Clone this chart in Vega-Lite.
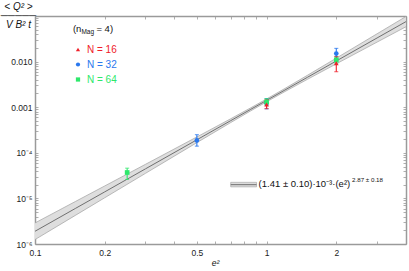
{
  "$schema": "https://vega.github.io/schema/vega-lite/v6.json",
  "autosize": {"type": "none"},
  "padding": {"left": 35, "top": 16, "right": 3, "bottom": 27},
  "width": 371,
  "height": 228,
  "background": "white",
  "config": {
    "font": "Liberation Sans",
    "view": {"stroke": null},
    "axis": {
      "grid": false,
      "domainColor": "#9a9a9a",
      "domainWidth": 1.5,
      "tickColor": "#9a9a9a",
      "tickSize": -3,
      "tickWidth": 0.8,
      "labelFontSize": 8.5,
      "labelColor": "#222",
      "labelFont": "Liberation Sans",
      "titleFont": "Liberation Sans",
      "titleFontWeight": "normal",
      "titleColor": "#111"
    },
    "legend": {
      "orient": "none", "legendX": 38, "legendY": 28.5, "title": null,
      "labelFontSize": 10, "symbolSize": 18, "symbolStrokeWidth": 0, "rowPadding": 5, "padding": 0, "labelOffset": 4
    }
  },
  "datasets": {
    "fit": [
      {"e2": 0.1, "lo": 1.249e-6, "mid": 1.902e-6, "hi": 2.895e-6},
      {"e2": 0.15, "lo": 4.296e-6, "mid": 6.088e-6, "hi": 8.633e-6},
      {"e2": 0.2, "lo": 1.032e-5, "mid": 1.390e-5, "hi": 1.874e-5},
      {"e2": 0.3, "lo": 3.543e-5, "mid": 4.450e-5, "hi": 5.590e-5},
      {"e2": 0.5, "lo": 1.671e-4, "mid": 1.928e-4, "hi": 2.226e-4},
      {"e2": 0.7, "lo": 4.603e-4, "mid": 5.066e-4, "hi": 5.574e-4},
      {"e2": 0.85, "lo": 8.190e-4, "mid": 8.842e-4, "hi": 9.548e-4},
      {"e2": 1, "lo": 1.313e-3, "mid": 1.41e-3, "hi": 1.514e-3},
      {"e2": 1.2, "lo": 2.200e-3, "mid": 2.378e-3, "hi": 2.573e-3},
      {"e2": 1.5, "lo": 4.077e-3, "mid": 4.515e-3, "hi": 4.998e-3},
      {"e2": 2, "lo": 8.931e-3, "mid": 1.031e-2, "hi": 1.190e-2},
      {"e2": 3, "lo": 2.675e-2, "mid": 3.300e-2, "hi": 4.072e-2},
      {"e2": 4, "lo": 5.813e-2, "mid": 7.535e-2, "hi": 9.768e-2}
    ],
    "pts": [
      {"e2": 0.25, "N": 64, "q": 3.7e-5, "lo": 2.6e-5, "hi": 4.6e-5},
      {"e2": 0.5, "N": 32, "q": 1.87e-4, "lo": 1.4e-4, "hi": 2.5e-4},
      {"e2": 1, "N": 32, "q": 1.22e-3, "lo": 0.92e-3, "hi": 1.55e-3},
      {"e2": 1, "N": 64, "q": 1.3e-3, "lo": 1.1e-3, "hi": 1.55e-3},
      {"e2": 1, "N": 16, "q": 1.15e-3, "lo": 0.93e-3, "hi": 1.45e-3},
      {"e2": 2, "N": 32, "q": 1.5e-2, "lo": 1.15e-2, "hi": 1.95e-2},
      {"e2": 2, "N": 64, "q": 1.09e-2, "lo": 0.93e-2, "hi": 1.27e-2},
      {"e2": 2, "N": 16, "q": 9.2e-3, "lo": 6.0e-3, "hi": 1.29e-2}
    ]
  },
  "resolve": {"axis": {"x": "independent", "y": "independent"}},
  "layer": [
    {
      "data": {"name": "fit"},
      "mark": {"type": "area", "color": "#dedede", "clip": true},
      "encoding": {
        "x": {
          "field": "e2", "type": "quantitative",
          "scale": {"type": "log", "domain": [0.1, 4], "nice": false},
          "axis": {
            "orient": "bottom",
            "values": [0.1, 0.2, 0.3, 0.4, 0.5, 0.6, 0.7, 0.8, 0.9, 1, 2, 3, 4],
            "labelExpr": "datum.value == 0.1 ? '0.1' : datum.value == 0.2 ? '0.2' : datum.value == 0.5 ? '0.5' : datum.value == 1 ? '1' : datum.value == 2 ? '2' : ''",
            "labelPadding": 7,
            "labelFlush": false,
            "labelOverlap": false,
            "title": "e²",
            "titleFontStyle": "italic",
            "titleFontSize": 8.5,
            "titleX": 180,
            "titleY": 14,
            "titleBaseline": "top"
          }
        },
        "y": {
          "field": "lo", "type": "quantitative",
          "scale": {"type": "log", "domain": [1e-6, 0.1], "nice": false},
          "axis": {
            "orient": "left",
            "values": [1e-6, 2e-6, 3e-6, 4e-6, 5e-6, 6e-6, 7e-6, 8e-6, 9e-6, 1e-5, 2e-5, 3e-5, 4e-5, 5e-5, 6e-5, 7e-5, 8e-5, 9e-5, 1e-4, 2e-4, 3e-4, 4e-4, 5e-4, 6e-4, 7e-4, 8e-4, 9e-4, 0.001, 0.002, 0.003, 0.004, 0.005, 0.006, 0.007, 0.008, 0.009, 0.01, 0.02, 0.03, 0.04, 0.05, 0.06, 0.07, 0.08, 0.09, 0.1],
            "labelExpr": "datum.value == 1e-6 ? '10⁻⁶' : datum.value == 1e-5 ? '10⁻⁵' : datum.value == 1e-4 ? '10⁻⁴' : datum.value == 0.001 ? '0.001' : datum.value == 0.01 ? '0.010' : ''",
            "labelPadding": 6,
            "labelFlush": false,
            "labelOverlap": false,
            "title": ["< Q² >", "─────", "V B² t"],
            "titleFontStyle": "italic",
            "titleFontSize": 10,
            "titleLineHeight": 9,
            "titleAngle": 0,
            "titleAlign": "center",
            "titleBaseline": "top",
            "titleX": -17,
            "titleY": -15
          }
        },
        "y2": {"field": "hi"}
      }
    },
    {
      "data": {"name": "fit"},
      "mark": {"type": "line", "color": "#a0a0a0", "strokeWidth": 0.7, "clip": true},
      "encoding": {
        "x": {"field": "e2", "type": "quantitative", "scale": {"type": "log", "domain": [0.1, 4], "nice": false}, "axis": null},
        "y": {"field": "lo", "type": "quantitative", "scale": {"type": "log", "domain": [1e-6, 0.1], "nice": false}, "axis": null}
      }
    },
    {
      "data": {"name": "fit"},
      "mark": {"type": "line", "color": "#a0a0a0", "strokeWidth": 0.7, "clip": true},
      "encoding": {
        "x": {"field": "e2", "type": "quantitative", "scale": {"type": "log", "domain": [0.1, 4], "nice": false}, "axis": null},
        "y": {"field": "hi", "type": "quantitative", "scale": {"type": "log", "domain": [1e-6, 0.1], "nice": false}, "axis": null}
      }
    },
    {
      "data": {"name": "fit"},
      "mark": {"type": "line", "color": "#707070", "strokeWidth": 1, "clip": true},
      "encoding": {
        "x": {
          "field": "e2", "type": "quantitative",
          "scale": {"type": "log", "domain": [0.1, 4], "nice": false},
          "axis": {
            "orient": "top",
            "values": [0.1, 0.2, 0.3, 0.4, 0.5, 0.6, 0.7, 0.8, 0.9, 1, 2, 3, 4],
            "labels": false,
            "title": null
          }
        },
        "y": {
          "field": "mid", "type": "quantitative",
          "scale": {"type": "log", "domain": [1e-6, 0.1], "nice": false},
          "axis": {
            "orient": "right",
            "values": [1e-6, 2e-6, 3e-6, 4e-6, 5e-6, 6e-6, 7e-6, 8e-6, 9e-6, 1e-5, 2e-5, 3e-5, 4e-5, 5e-5, 6e-5, 7e-5, 8e-5, 9e-5, 1e-4, 2e-4, 3e-4, 4e-4, 5e-4, 6e-4, 7e-4, 8e-4, 9e-4, 0.001, 0.002, 0.003, 0.004, 0.005, 0.006, 0.007, 0.008, 0.009, 0.01, 0.02, 0.03, 0.04, 0.05, 0.06, 0.07, 0.08, 0.09, 0.1],
            "labels": false,
            "title": null
          }
        }
      }
    },
    {
      "data": {"name": "pts"},
      "mark": {"type": "errorbar", "ticks": {"size": 4}, "thickness": 1.1},
      "encoding": {
        "x": {"field": "e2", "type": "quantitative", "scale": {"type": "log", "domain": [0.1, 4], "nice": false}, "axis": null},
        "y": {"field": "lo", "type": "quantitative", "scale": {"type": "log", "domain": [1e-6, 0.1], "nice": false}, "axis": null},
        "y2": {"field": "hi"},
        "color": {
          "field": "N", "type": "nominal",
          "scale": {"domain": [16, 32, 64], "range": ["#f0202a", "#2a78ee", "#2ee86b"]},
          "legend": {
            "labelExpr": "'N = ' + datum.label",
            "encode": {"labels": {"update": {"fill": {"scale": "color", "field": "value"}}}}
          }
        }
      }
    },
    {
      "data": {"name": "pts"},
      "mark": {"type": "point", "filled": true, "size": 22, "opacity": 1},
      "encoding": {
        "x": {"field": "e2", "type": "quantitative", "scale": {"type": "log", "domain": [0.1, 4], "nice": false}, "axis": null},
        "y": {"field": "q", "type": "quantitative", "scale": {"type": "log", "domain": [1e-6, 0.1], "nice": false}, "axis": null},
        "color": {
          "field": "N", "type": "nominal",
          "scale": {"domain": [16, 32, 64], "range": ["#f0202a", "#2a78ee", "#2ee86b"]},
          "legend": {
            "labelExpr": "'N = ' + datum.label",
            "encode": {"labels": {"update": {"fill": {"scale": "color", "field": "value"}}}}
          }
        },
        "shape": {
          "field": "N", "type": "nominal",
          "scale": {"domain": [16, 32, 64], "range": ["triangle-up", "circle", "square"]},
          "legend": {
            "labelExpr": "'N = ' + datum.label",
            "encode": {"labels": {"update": {"fill": {"scale": "color", "field": "value"}}}}
          }
        }
      }
    },
    {
      "data": {"values": [{}]},
      "mark": {"type": "text", "text": "(n", "fontSize": 9.5, "align": "left", "baseline": "alphabetic", "color": "#111"},
      "encoding": {
        "x": {"datum": 0.1458, "type": "quantitative", "scale": {"type": "log", "domain": [0.1, 4], "nice": false}, "axis": null},
        "y": {"datum": 0.0447, "type": "quantitative", "scale": {"type": "log", "domain": [1e-6, 0.1], "nice": false}, "axis": null}
      }
    },
    {
      "data": {"values": [{}]},
      "mark": {"type": "text", "text": "Mag", "fontSize": 6.5, "align": "left", "baseline": "alphabetic", "dx": 8.5, "dy": 2.5, "color": "#111"},
      "encoding": {
        "x": {"datum": 0.1458, "type": "quantitative", "scale": {"type": "log", "domain": [0.1, 4], "nice": false}, "axis": null},
        "y": {"datum": 0.0447, "type": "quantitative", "scale": {"type": "log", "domain": [1e-6, 0.1], "nice": false}, "axis": null}
      }
    },
    {
      "data": {"values": [{}]},
      "mark": {"type": "text", "text": "= 4)", "fontSize": 9.5, "align": "left", "baseline": "alphabetic", "dx": 23.5, "color": "#111"},
      "encoding": {
        "x": {"datum": 0.1458, "type": "quantitative", "scale": {"type": "log", "domain": [0.1, 4], "nice": false}, "axis": null},
        "y": {"datum": 0.0447, "type": "quantitative", "scale": {"type": "log", "domain": [1e-6, 0.1], "nice": false}, "axis": null}
      }
    },
    {
      "data": {"values": [{}]},
      "mark": {"type": "rect", "fill": "#dcdcdc", "stroke": "#a0a0a0", "strokeWidth": 0.6},
      "encoding": {
        "x": {"datum": 0.70, "type": "quantitative", "scale": {"type": "log", "domain": [0.1, 4], "nice": false}, "axis": null},
        "x2": {"datum": 0.905},
        "y": {"datum": 1.79e-5, "type": "quantitative", "scale": {"type": "log", "domain": [1e-6, 0.1], "nice": false}, "axis": null},
        "y2": {"datum": 2.25e-5}
      }
    },
    {
      "data": {"values": [{}]},
      "mark": {"type": "rule", "stroke": "#707070", "strokeWidth": 1},
      "encoding": {
        "x": {"datum": 0.70, "type": "quantitative", "scale": {"type": "log", "domain": [0.1, 4], "nice": false}, "axis": null},
        "x2": {"datum": 0.905},
        "y": {"datum": 2.0e-5, "type": "quantitative", "scale": {"type": "log", "domain": [1e-6, 0.1], "nice": false}, "axis": null}
      }
    },
    {
      "data": {"values": [{}]},
      "mark": {"type": "text", "text": "(1.41 ± 0.10)·10⁻³·(e²)", "fontSize": 9.5, "align": "left", "baseline": "alphabetic", "color": "#111"},
      "encoding": {
        "x": {"datum": 0.9236, "type": "quantitative", "scale": {"type": "log", "domain": [0.1, 4], "nice": false}, "axis": null},
        "y": {"datum": 1.81e-5, "type": "quantitative", "scale": {"type": "log", "domain": [1e-6, 0.1], "nice": false}, "axis": null}
      }
    },
    {
      "data": {"values": [{}]},
      "mark": {"type": "text", "text": "2.87 ± 0.18", "fontSize": 6.2, "align": "left", "baseline": "alphabetic", "dx": 93.5, "dy": -4.5, "color": "#111"},
      "encoding": {
        "x": {"datum": 0.9236, "type": "quantitative", "scale": {"type": "log", "domain": [0.1, 4], "nice": false}, "axis": null},
        "y": {"datum": 1.81e-5, "type": "quantitative", "scale": {"type": "log", "domain": [1e-6, 0.1], "nice": false}, "axis": null}
      }
    }
  ]
}
